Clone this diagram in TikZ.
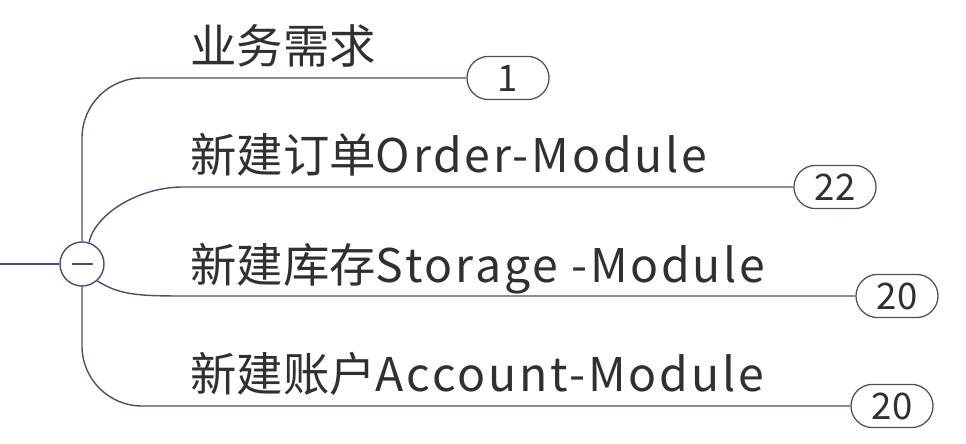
\documentclass[tikz,border=0pt]{standalone}
\usepackage{fontspec}
\setmainfont{Noto Sans CJK SC}
\newfontfamily\latn[LetterSpace=6]{Noto Sans CJK SC}
\usepackage{tikz}
\usetikzlibrary{positioning,calc,shapes.misc}
\definecolor{lineclr}{RGB}{72,80,112}
\definecolor{pillclr}{RGB}{78,80,92}
\definecolor{txtclr}{RGB}{48,48,48}

\begin{document}
\begin{tikzpicture}[
  x=0.025cm, y=-0.025cm,
  branch/.style={draw=lineclr,line width=1pt},
  hubnode/.style={circle,draw=lineclr,line width=1pt,fill=white,minimum size=1.1cm,inner sep=0pt},
  pill/.style={rounded rectangle,draw=pillclr,line width=0.9pt,fill=white,
    minimum width=2.05cm,minimum height=1.08cm,inner sep=0pt,text=txtclr,
    font=\fontsize{26}{30}\selectfont},
  lbl/.style={anchor=base west,inner sep=0pt,text=txtclr,font=\fontsize{33}{40}\selectfont}
]
\useasboundingbox (0,0) rectangle (966,444);

% ---- hub with collapse sign ----
\coordinate (root) at (0,264);
\node[hubnode] (hub) at (82,264) {};
\draw[pillclr,line width=1.7pt] ($(hub.center)+(-10,0)$) -- ($(hub.center)+(11,0)$);
\draw[branch] (root) -- (hub.west);

% ---- counters ----
\node[pill] (p1) at (508,78) {1};
\node[pill] (p2) at (835,187) {22};
\node[pill] (p3) at (897,296) {20};
\node[pill] (p4) at (892,406) {20};

% ---- labels ----
\node[lbl] (t1) at (190,64) {业务需求};
\node[lbl] (t2) at (190,173) {新建订单{\latn Order-Module}};
\node[lbl] (t3) at (190,283) {新建库存{\latn Storage -Module}};
\node[lbl] (t4) at (190,392) {新建账户{\latn Account-Module}};

% ---- branches ----
\coordinate (k2) at (183,187);
\coordinate (k3) at (183,296);
\draw[branch,rounded corners=1.5cm] (hub.north) |- (p1.west);
\draw[branch] (hub.72) .. controls +(6,-28) and +(-45,0) .. (k2) -- (p2.west);
\draw[branch] (hub.-48) .. controls +(22,14) and +(-45,0) .. (k3) -- (p3.west);
\draw[branch,rounded corners=1.5cm] (hub.south) |- (p4.west);

\end{tikzpicture}
\end{document}
